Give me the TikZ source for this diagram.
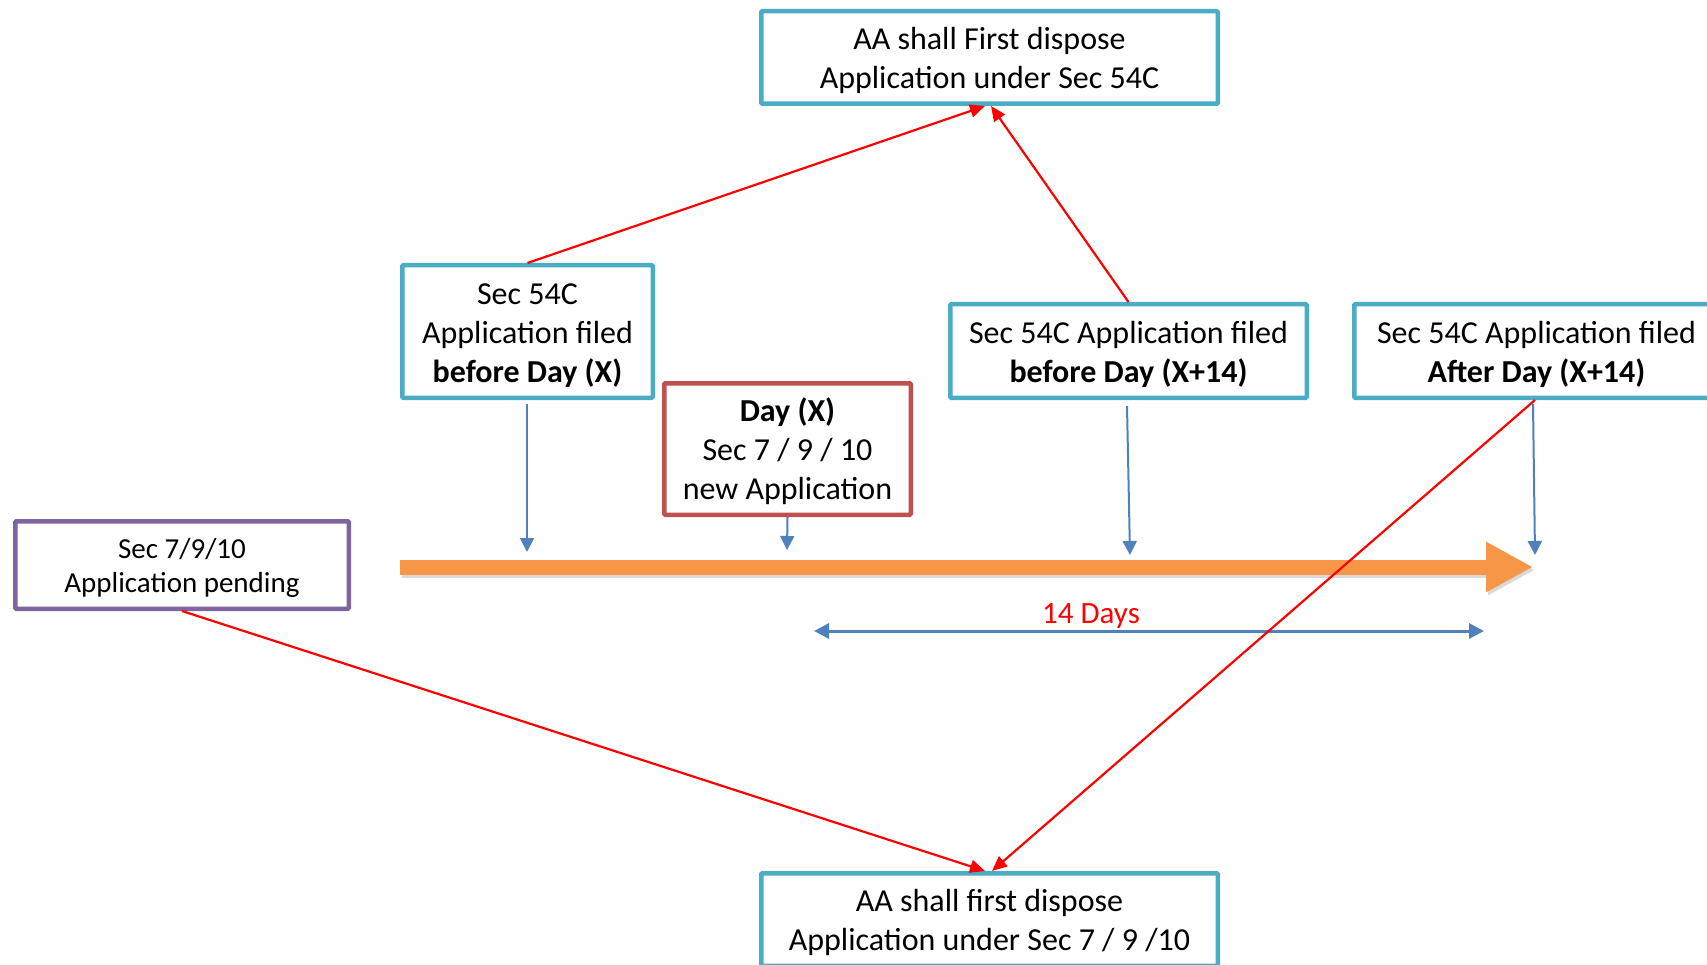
\documentclass[tikz,border=0pt]{standalone}
\usepackage{fontspec}
\setmainfont{Carlito}
\usetikzlibrary{arrows.meta}
\definecolor{boxteal}{HTML}{4BACC6}
\definecolor{boxpurple}{HTML}{8064A2}
\definecolor{boxred}{HTML}{C0504D}
\definecolor{tlorange}{HTML}{F79646}
\definecolor{arrblue}{HTML}{4F81BD}
\definecolor{linered}{HTML}{FF0000}
\newcommand\myTopStrut{\rule{0pt}{32.5pt}}
\newcommand\myPurpleStrut{\rule{0pt}{30.5pt}}
\tikzset{
  basebox/.style={line width=4.5pt, fill=white, align=center, inner sep=0pt,
    font=\fontsize{32}{39}\selectfont, rounded corners=1pt,
    execute at end node={\rule[-9pt]{0pt}{9pt}}},
  tbox/.style={basebox, draw=boxteal},
  rbox/.style={basebox, draw=boxred},
  pbox/.style={basebox, draw=boxpurple, font=\fontsize{29}{34}\selectfont},
  redarrow/.style={draw=linered, line width=2.2pt, -{Triangle[length=15pt, width=13pt]}},
  bluearrow/.style={draw=arrblue, line width=2pt, -{Triangle[length=14pt, width=14pt]}},
  spanarrow/.style={draw=arrblue, line width=3pt, {Triangle[length=15pt, width=15pt]}-{Triangle[length=15pt, width=15pt]}},
  timeline/.style={draw=tlorange, line width=15pt, -{Triangle[length=47pt, width=47pt]}},
  timeshadow/.style={draw=black, opacity=0.15, line width=15pt, -{Triangle[length=47pt, width=47pt]}},
}
\begin{document}
\begin{tikzpicture}[x=1pt,y=-1pt]
\useasboundingbox (0,0) rectangle (1707,965);
\clip (0,0) rectangle (1707,965);
\fill[white] (0,0) rectangle (1707,965);

% timeline
\coordinate (tl0) at (400,567);
\coordinate (tl1) at (1533,567);
\draw[timeshadow] ([shift={(2pt,-3pt)}]tl0) -- ([shift={(2pt,-3pt)}]tl1);
\draw[timeline] (tl0) -- (tl1);

% boxes
\node[tbox, minimum width=456.5pt, minimum height=92.5pt] (top) at (989.5,57.5)
  {\myTopStrut AA shall First dispose\\Application under Sec 54C};
\node[tbox, minimum width=250.5pt, minimum height=132.5pt] (A) at (527.5,331.5)
  {\myTopStrut Sec 54C\\Application filed\\\textbf{before Day (X)}};
\node[rbox, minimum width=246.5pt, minimum height=131.5pt] (D) at (787.5,449)
  {\myTopStrut\textbf{Day (X)}\\Sec 7 / 9 / 10\\new Application};
\node[tbox, minimum width=356.5pt, minimum height=93.5pt] (B) at (1128.5,351)
  {\myTopStrut Sec 54C Application filed\\\textbf{before Day (X+14)}};
\node[tbox, minimum width=364.5pt, minimum height=93.5pt] (C) at (1536.5,351)
  {\myTopStrut Sec 54C Application filed\\\textbf{After Day (X+14)}};
\node[pbox, minimum width=333.5pt, minimum height=87.5pt] (P) at (182,565)
  {\myPurpleStrut Sec 7/9/10\\Application pending};
\node[tbox, minimum width=456.5pt, minimum height=92.5pt] (bot) at (989.5,919.5)
  {\myTopStrut AA shall first dispose\\Application under Sec 7 / 9 /10};

% blue drop arrows
\coordinate (tA) at (527,552);
\coordinate (tD) at (787,550);
\coordinate (tB) at (1130,555);
\coordinate (tC) at (1535,555);
\draw[bluearrow] ([shift={(-0.5pt,-4pt)}]A.south) -- (tA);
\draw[bluearrow] (D.south) -- (tD);
\draw[bluearrow] ([shift={(-1.5pt,-6pt)}]B.south) -- (tB);
\draw[bluearrow] ([shift={(-3.5pt,-4pt)}]C.south) -- (tC);

% 14 days span
\coordinate (d0) at (814,631);
\coordinate (d1) at (1484,631);
\draw[spanarrow] (d0) -- (d1);
\node[text=linered, font=\fontsize{31}{36}\selectfont] (days) at (1091,616) {14 Days};

% red arrows
\draw[redarrow] (A.north) -- ([xshift=-4.5pt]top.south);
\draw[redarrow] (B.north) -- ([xshift=1.5pt]top.south);
\draw[redarrow] (P.south) -- ([xshift=-4.5pt]bot.north);
\draw[redarrow] ([xshift=-1.5pt]C.south) -- ([xshift=2.5pt]bot.north);
\end{tikzpicture}
\end{document}
